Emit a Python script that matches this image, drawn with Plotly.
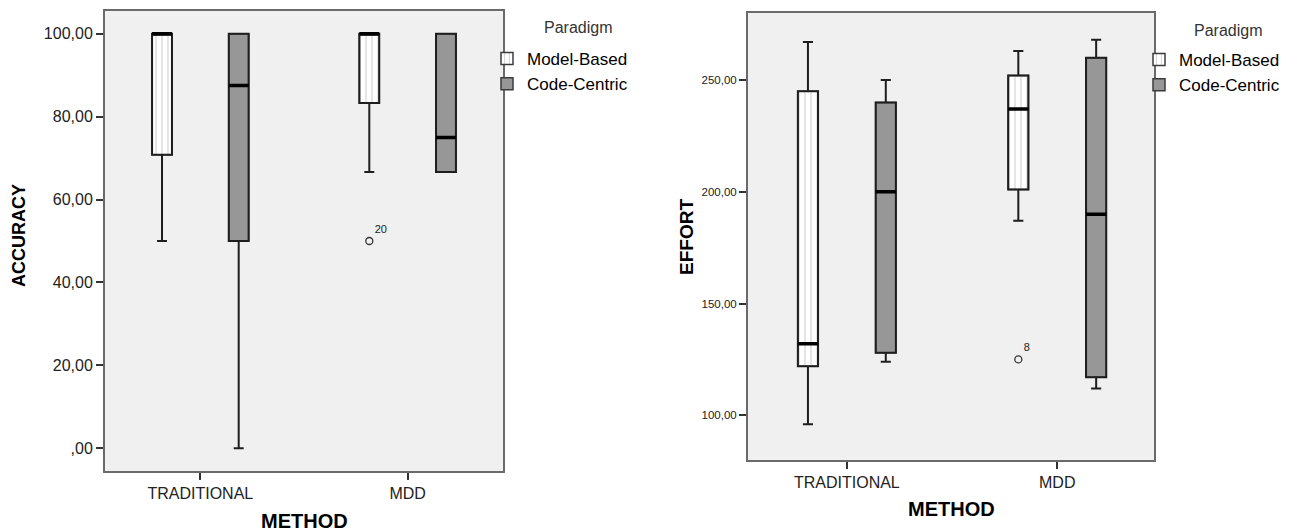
import plotly.graph_objects as go

# ---------------- data ----------------
CATEGORIES = ["TRADITIONAL", "MDD"]
PARADIGMS = ["Model-Based", "Code-Centric"]

# ACCURACY (left panel)
acc_mb_low = [50.0, 66.67]
acc_mb_q1 = [70.83, 83.33]
acc_mb_med = [100.0, 100.0]
acc_mb_q3 = [100.0, 100.0]
acc_mb_high = [100.0, 100.0]

acc_cc_low = [0.0, 66.67]
acc_cc_q1 = [50.0, 66.67]
acc_cc_med = [87.5, 75.0]
acc_cc_q3 = [100.0, 100.0]
acc_cc_high = [100.0, 100.0]

acc_outlier_cat = ["MDD"]
acc_outlier_val = [50.0]
acc_outlier_lbl = ["20"]

# EFFORT (right panel)
eff_mb_low = [96.0, 187.0]
eff_mb_q1 = [122.0, 201.0]
eff_mb_med = [132.0, 237.0]
eff_mb_q3 = [245.0, 252.0]
eff_mb_high = [267.0, 263.0]

eff_cc_low = [124.0, 112.0]
eff_cc_q1 = [128.0, 117.0]
eff_cc_med = [200.0, 190.0]
eff_cc_q3 = [240.0, 260.0]
eff_cc_high = [250.0, 268.0]

eff_outlier_cat = ["MDD"]
eff_outlier_val = [125.0]
eff_outlier_lbl = ["8"]

ACC_TICKS = [0, 20, 40, 60, 80, 100]
ACC_TICK_LABELS = [",00", "20,00", "40,00", "60,00", "80,00", "100,00"]
EFF_TICKS = [100, 150, 200, 250]
EFF_TICK_LABELS = ["100,00", "150,00", "200,00", "250,00"]

X_TITLE = "METHOD"
Y_TITLES = ["ACCURACY", "EFFORT"]
LEGEND_TITLE = "Paradigm"

# ---------------- style ----------------
W, H = 1311, 531
FONT = "Liberation Sans, Arial, sans-serif"
OFFSET = 0.185
BOX_W = 0.096
CC_FILL = "#979797"
OUTLINE = "#3c3c3c"
PLOT_BG = "#f0f0f0"

pos = {c: i for i, c in enumerate(CATEGORIES)}


def add_panel(fig, xa, ya, legend, mb, cc, out_cat, out_val, out_lbl):
    x_mb = [pos[c] - OFFSET for c in CATEGORIES]
    x_cc = [pos[c] + OFFSET for c in CATEGORIES]
    low, q1, med, q3, high = mb
    # patterned fill for Model-Based
    fig.add_trace(go.Bar(
        x=x_mb, base=q1, y=[b - a for a, b in zip(q1, q3)], width=BOX_W,
        name=PARADIGMS[0], legend=legend, xaxis=xa, yaxis=ya,
        marker=dict(color="white", line=dict(color=OUTLINE, width=1.5),
                    pattern=dict(shape="|", fgcolor="#a8a8a8", bgcolor="white",
                                 size=6, solidity=0.2)),
        hoverinfo="skip"))
    clow, cq1, cmed, cq3, chigh = cc
    fig.add_trace(go.Bar(
        x=x_cc, base=cq1, y=[b - a for a, b in zip(cq1, cq3)], width=BOX_W,
        name=PARADIGMS[1], legend=legend, xaxis=xa, yaxis=ya,
        marker=dict(color=CC_FILL, line=dict(color=OUTLINE, width=1.5)),
        hoverinfo="skip"))
    for xs, st in ((x_mb, mb), (x_cc, cc)):
        lo, a, m, b, hi = st
        fig.add_trace(go.Box(
            x=xs, q1=a, median=m, q3=b, lowerfence=lo, upperfence=hi,
            width=BOX_W, whiskerwidth=0.5, boxpoints=False,
            fillcolor="rgba(0,0,0,0)", line=dict(color="#1e1e1e", width=2),
            showlegend=False, xaxis=xa, yaxis=ya, hoverinfo="skip"))
        # thick median line
        fig.add_trace(go.Box(
            x=xs, q1=m, median=m, q3=m, lowerfence=m, upperfence=m,
            width=BOX_W, whiskerwidth=0, boxpoints=False,
            fillcolor="rgba(0,0,0,0)", line=dict(color="black", width=3.5),
            showlegend=False, xaxis=xa, yaxis=ya, hoverinfo="skip"))
    fig.add_trace(go.Scatter(
        x=[pos[c] - OFFSET for c in out_cat], y=out_val, text=out_lbl,
        mode="markers+text", textposition="top right",
        textfont=dict(size=11, color="#222", family=FONT),
        marker=dict(symbol="circle-open", size=7, color="#333",
                    line=dict(width=1.3, color="#333")),
        showlegend=False, xaxis=xa, yaxis=ya, hoverinfo="skip"))


fig = go.Figure()
add_panel(fig, "x", "y", "legend",
          (acc_mb_low, acc_mb_q1, acc_mb_med, acc_mb_q3, acc_mb_high),
          (acc_cc_low, acc_cc_q1, acc_cc_med, acc_cc_q3, acc_cc_high),
          acc_outlier_cat, acc_outlier_val, acc_outlier_lbl)
add_panel(fig, "x2", "y2", "legend2",
          (eff_mb_low, eff_mb_q1, eff_mb_med, eff_mb_q3, eff_mb_high),
          (eff_cc_low, eff_cc_q1, eff_cc_med, eff_cc_q3, eff_cc_high),
          eff_outlier_cat, eff_outlier_val, eff_outlier_lbl)

axis_common = dict(showline=True, mirror=True, linecolor="#6a6a6a", linewidth=2,
                   showgrid=False, zeroline=False, ticks="outside", ticklen=7,
                   tickcolor="#333", tickwidth=2)


def px_x(p):
    return p / W


def px_y(p):
    return 1 - p / H


def title_ann(text, x, y, size, angle=0, bold=True, color="black"):
    return dict(text=("<b>%s</b>" % text) if bold else text,
                x=px_x(x), y=px_y(y), xref="paper", yref="paper",
                xanchor="center", yanchor="middle", showarrow=False, textangle=angle,
                font=dict(size=size, color=color, family=FONT))


legend_common = dict(xanchor="left", yanchor="top", bgcolor="rgba(0,0,0,0)",
                     font=dict(size=17, color="black"), tracegroupgap=0)

fig.update_layout(
    width=W, height=H,
    margin=dict(l=0, r=0, t=0, b=0),
    paper_bgcolor="white", plot_bgcolor=PLOT_BG,
    font=dict(family=FONT, color="#222"),
    barmode="overlay",
    xaxis=dict(domain=[px_x(105), px_x(503)], anchor="y", range=[-0.46, 1.46],
               tickvals=[pos[c] for c in CATEGORIES], ticktext=CATEGORIES,
               tickfont=dict(size=16, color="#222"), **axis_common),
    yaxis=dict(domain=[px_y(471), px_y(11)], anchor="x", range=[-5.5, 105.5],
               tickvals=ACC_TICKS, ticktext=ACC_TICK_LABELS,
               tickfont=dict(size=16, color="#222"), **axis_common),
    xaxis2=dict(domain=[px_x(748), px_x(1154)], anchor="y2", range=[-0.47, 1.46],
                tickvals=[pos[c] for c in CATEGORIES], ticktext=CATEGORIES,
                tickfont=dict(size=16, color="#222"), **axis_common),
    yaxis2=dict(domain=[px_y(460), px_y(13)], anchor="x2", range=[80, 280],
                tickvals=EFF_TICKS, ticktext=EFF_TICK_LABELS,
                tickfont=dict(size=11.5, color="#222"), **axis_common),
    legend=dict(x=px_x(487), y=px_y(41), **legend_common),
    legend2=dict(x=px_x(1139), y=px_y(42), **legend_common),
    annotations=[
        title_ann(Y_TITLES[0], 19, 236, 18, -90),
        title_ann(X_TITLE, 304, 521, 20),
        title_ann(Y_TITLES[1], 686, 237, 19, -90),
        title_ann(X_TITLE, 951, 509, 20),
        title_ann(LEGEND_TITLE, 578, 28, 16, bold=False, color="#333"),
        title_ann(LEGEND_TITLE, 1228, 30, 16, bold=False, color="#333"),
    ],
)

fig.write_html("out.html", config={"displayModeBar": False},
               post_script="document.body.style.margin='0';")
